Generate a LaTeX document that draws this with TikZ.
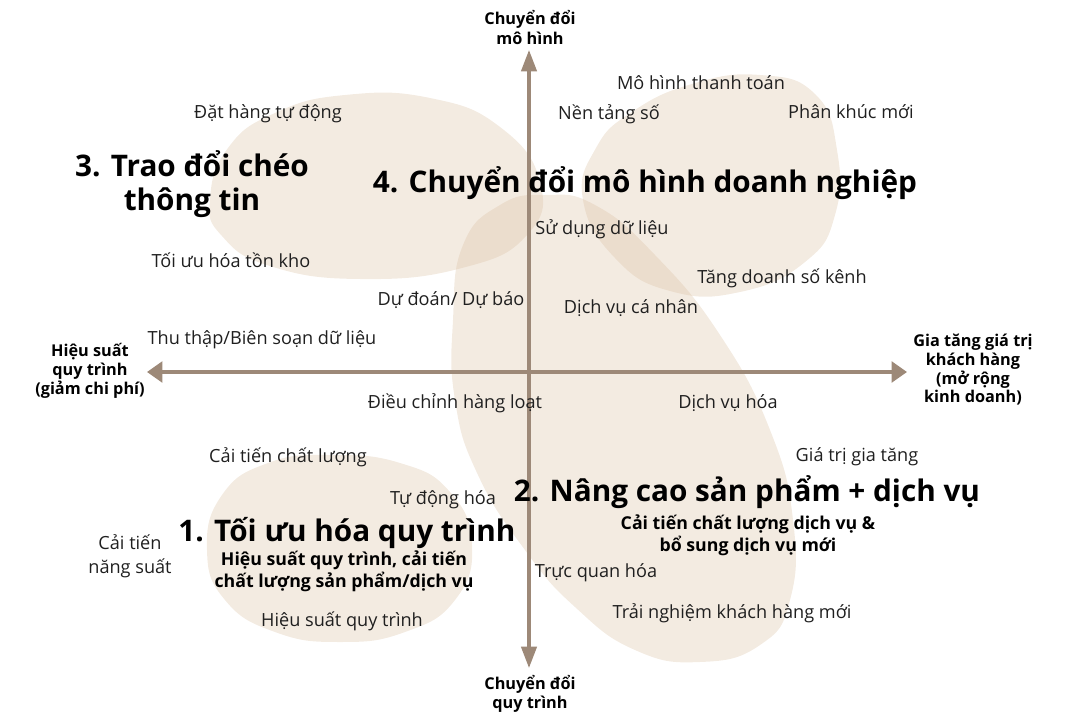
\documentclass[tikz,border=0pt]{standalone}
\usepackage{fontspec}
\setmainfont{Open Sans}
\usetikzlibrary{arrows.meta}
\definecolor{axiscol}{RGB}{157,137,120}
\definecolor{blobcol}{RGB}{218,192,162}
\tikzset{
  blob/.style={fill=blobcol, fill opacity=0.32},
  lab/.style={font=\fontsize{13.6}{16}\selectfont, text=black!88, inner sep=0pt, align=center},
  ttl/.style={font=\fontsize{22.3}{25}\selectfont\bfseries, inner sep=0pt, align=center},
  sub/.style={font=\fontsize{13.3}{16.5}\selectfont\bfseries, inner sep=0pt, align=center},
  axl/.style={font=\fontsize{12.2}{14}\selectfont\bfseries, inner sep=0pt, align=center},
  vaxis/.style={draw=axiscol, line width=2.4pt, {Triangle[length=16pt,width=11.5pt]}-{Triangle[length=16pt,width=11.5pt]}},
  haxis/.style={draw=axiscol, line width=2.4pt, {Triangle[length=11.5pt,width=15.5pt]}-{Triangle[length=11.5pt,width=15.5pt]}}
}
\begin{document}
\begin{tikzpicture}[x=0.75pt,y=-0.75pt]
\useasboundingbox (0,0) rectangle (1072,721);
% blobs
\fill[blob] plot[smooth cycle, tension=0.8] coordinates {(210,200) (228,148) (275,113) (345,95) (430,98) (500,127) (540,182) (527,235) (462,268) (360,279) (270,266) (222,236)};
\fill[blob] plot[smooth cycle, tension=0.8] coordinates {(583,200) (596,148) (632,112) (692,84) (760,75) (815,94) (837,150) (835,215) (805,262) (740,292) (670,291) (615,258)};
\fill[blob] plot[smooth cycle, tension=0.8] coordinates {(463,245) (500,205) (545,195) (595,205) (655,255) (720,335) (770,430) (793,520) (790,600) (760,645) (700,662) (635,650) (575,607) (525,550) (478,475) (455,400) (453,320)};
\fill[blob] plot[smooth cycle, tension=0.8] coordinates {(207,550) (222,495) (268,463) (330,455) (400,463) (450,492) (472,545) (455,600) (405,632) (340,642) (275,632) (225,600)};
% axes
\coordinate (vtop) at (529,50);
\coordinate (vbot) at (529,668);
\coordinate (hleft) at (147,372);
\coordinate (hright) at (907,372);
\draw[vaxis] (vtop) -- (vbot);
\draw[haxis] (hleft) -- (hright);
% axis labels
\node[axl, font=\fontsize{12.2}{15}\selectfont\bfseries] (ytop) at (530,27) {Chuyển đổi\\mô hình};
\node[axl] (ybot) at (530,694) {Chuyển đổi\\quy trình};
\node[axl] (xleft) at (90,371) {Hiệu suất\\quy trình\\(giảm chi phí)};
\node[axl] (xright) at (973,370) {Gia tăng giá trị\\khách hàng\\(mở rộng\\kinh doanh)};
% small labels
\node[lab] (l1) at (701,83) {Mô hình thanh toán};
\node[lab] (l2) at (609,114) {Nền tảng số};
\node[lab] (l3) at (851,112) {Phân khúc mới};
\node[lab] (l4) at (268,114) {Đặt hàng tự động};
\node[lab] (l5) at (602,229) {Sử dụng dữ liệu};
\node[lab] (l6) at (231,260) {Tối ưu hóa tồn kho};
\node[lab] (l7) at (782,278) {Tăng doanh số kênh};
\node[lab] (l8) at (451,300) {Dự đoán/ Dự báo};
\node[lab] (l9) at (631,308) {Dịch vụ cá nhân};
\node[lab] (l10) at (262,340) {Thu thập/Biên soạn dữ liệu};
\node[lab] (l11) at (455,403) {Điều chỉnh hàng loạt};
\node[lab] (l12) at (728,403) {Dịch vụ hóa};
\node[lab] (l13) at (288,457) {Cải tiến chất lượng};
\node[lab] (l14) at (857,457) {Giá trị gia tăng};
\node[lab] (l15) at (443,500) {Tự động hóa};
\node[lab, font=\fontsize{13.6}{18}\selectfont] (l16) at (130,556) {Cải tiến\\năng suất};
\node[lab] (l17) at (596,573) {Trực quan hóa};
\node[lab] (l18) at (732,613) {Trải nghiệm khách hàng mới};
\node[lab] (l19) at (342,621) {Hiệu suất quy trình};
% titles
\node[ttl] (t3) at (192,184) {3. Trao đổi chéo\\thông tin};
\node[ttl] (t4) at (645,183) {4. Chuyển đổi mô hình doanh nghiệp};
\node[ttl] (t2) at (747,492) {2. Nâng cao sản phẩm + dịch vụ};
\node[sub] (s2) at (748,535) {Cải tiến chất lượng dịch vụ \&\\bổ sung dịch vụ mới};
\node[ttl] (t1) at (347,533) {1. Tối ưu hóa quy trình};
\node[sub] (s1) at (344,571) {Hiệu suất quy trình, cải tiến\\chất lượng sản phẩm/dịch vụ};
\end{tikzpicture}
\end{document}
